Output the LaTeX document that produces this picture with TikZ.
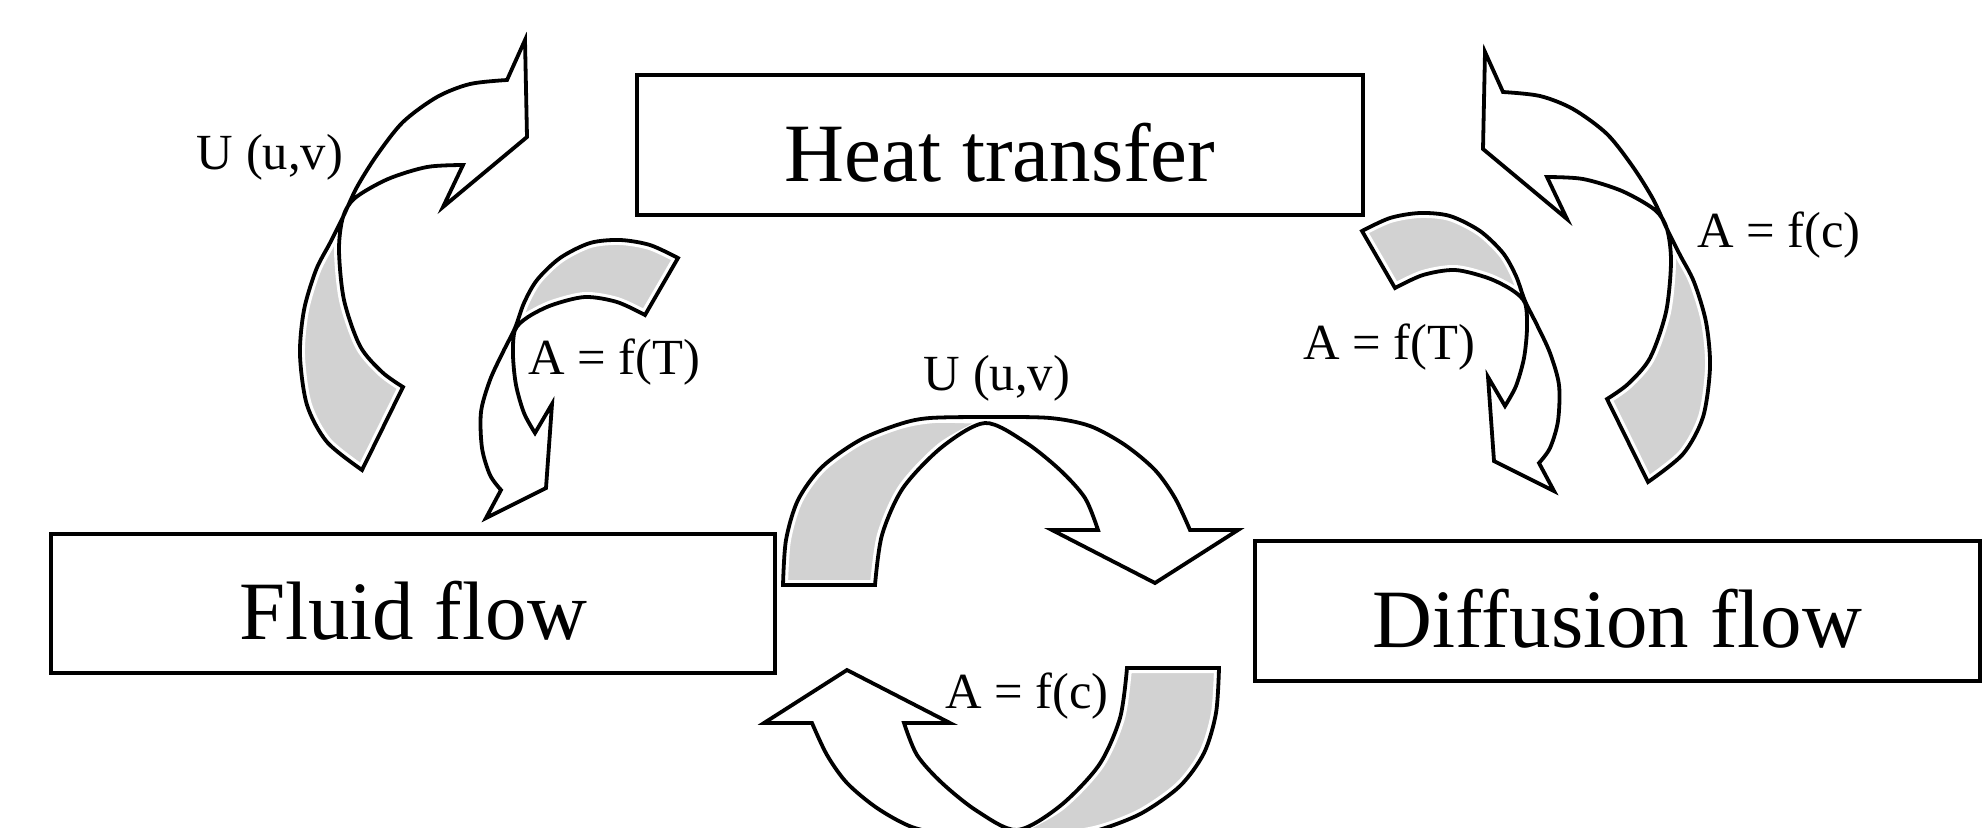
\documentclass[tikz,border=0pt]{standalone}
\usepackage{fontspec}
\setmainfont{Liberation Serif}
\definecolor{backshade}{HTML}{D2D2D2}

% twisted band arrows, drawn in pixel units of the picture
\newcommand{\bigturn}{%
  \filldraw[backfill] plot[smooth] coordinates {(362,470) (327,442) (307,405) (300,355) (304,310) (316,270) (330,243) (343,217)}
    -- plot[smooth] coordinates {(343,217) (339,250) (344,300) (360,346) (382,372) (403,387)} -- cycle;
  \draw[outline] plot[smooth] coordinates {(403,387) (382,372) (360,346) (344,300) (339,250) (343,217) (355,198) (388,179) (427,167) (463,165)}
    -- (443,207) -- (527,137) -- (525,40) -- (507,80)
    -- plot[smooth] coordinates {(507,80) (470,84) (437,97) (403,122) (377,155) (357,187) (343,217) (330,243) (316,270) (304,310) (300,355) (307,405) (327,442) (362,470)} -- cycle;
}
\newcommand{\smallturn}{%
  \filldraw[backfill] plot[smooth] coordinates {(678,258) (650,245) (620,240) (590,243) (560,258) (537,280) (524,303) (515,328)}
    -- plot[smooth] coordinates {(515,328) (528,317) (552,305) (585,297) (617,302) (645,315)} -- cycle;
  \draw[outline] plot[smooth] coordinates {(645,315) (617,302) (585,297) (552,305) (528,317) (515,330) (513,355) (516,385) (524,413) (535,433)}
    -- (552,404) -- (546,488) -- (486,518) -- (501,490)
    -- plot[smooth] coordinates {(501,490) (490,475) (482,448) (481,412) (490,380) (503,352) (515,328) (524,303) (537,280) (560,258) (590,243) (620,240) (650,245) (678,258)} -- cycle;
}
\newcommand{\archturn}{%
  \filldraw[backfill] plot[smooth] coordinates {(783,585) (786,540) (798,500) (822,467) (860,440) (900,424) (935,418) (985,419)}
    -- plot[smooth] coordinates {(985,423) (942,447) (903,488) (882,535) (875,585)} -- cycle;
  \draw[outline] plot[smooth] coordinates {(875,585) (882,535) (903,488) (942,447) (985,423) (1025,442) (1060,470) (1085,498) (1098,530)}
    -- (1052,530) -- (1155,583) -- (1238,530) -- (1190,530)
    -- plot[smooth] coordinates {(1190,530) (1175,498) (1155,470) (1125,445) (1090,426) (1050,418) (990,417) (930,418) (900,424) (860,440) (822,467) (798,500) (786,540) (783,585)} -- cycle;
}

\begin{document}
\begin{tikzpicture}[
  x=0.1mm, y=-0.1mm,
  block/.style={draw, line width=0.4mm, inner sep=0pt, font=\fontsize{23.6}{28}\selectfont, text height=20.5pt, text depth=0pt},
  lbl/.style={inner sep=0pt, font=\fontsize{14.4}{17}\selectfont},
  backfill/.style={fill=backshade, draw=white, line width=1mm},
  outline/.style={draw=black, line width=0.38mm}
]
\useasboundingbox (0,0) rectangle (1984,827);
\fill[white] (0,0) rectangle (1984,827);
\clip (0,0) rectangle (1984,827);

\node[block, minimum width=72.6mm, minimum height=14mm] (heat) at (1000,145) {Heat transfer};
\node[block, minimum width=72.4mm, minimum height=13.9mm] (fluid) at (413,603.5) {Fluid flow};
\node[block, minimum width=72.5mm, minimum height=14mm] (diff) at (1617.5,611) {Diffusion flow};

% left pair
\bigturn
\smallturn
% right pair, mirrored
\begin{scope}[shift={(2010,12)}, xscale=-1]
  \bigturn
\end{scope}
\begin{scope}[shift={(2040,-27)}, xscale=-1]
  \smallturn
\end{scope}
% middle pair
\archturn
\begin{scope}[rotate around={180:(1001,626.5)}]
  \archturn
\end{scope}

\node[lbl] (uvleft) at (270,157) {U (u,v)};
\node[lbl] (atleft) at (614,362) {A = f(T)};
\node[lbl] (uvmid) at (997,378) {U (u,v)};
\node[lbl] (acmid) at (1027,696) {A = f(c)};
\node[lbl] (atright) at (1389,347) {A = f(T)};
\node[lbl] (acright) at (1779,235) {A = f(c)};
\end{tikzpicture}
\end{document}
